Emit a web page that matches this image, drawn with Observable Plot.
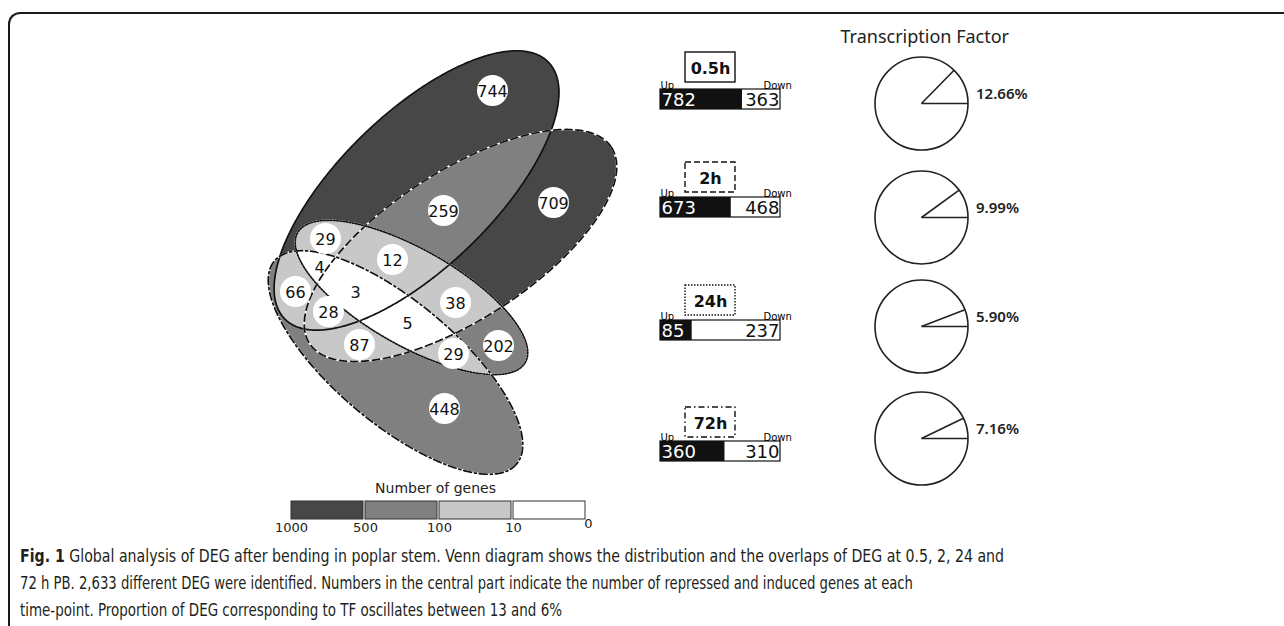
<!DOCTYPE html>
<html><head><meta charset="utf-8">
<script src="https://cdn.jsdelivr.net/npm/d3@7"></script>
<script src="https://cdn.jsdelivr.net/npm/@observablehq/plot@0.6"></script>
<style>
html,body{margin:0;padding:0;background:#fff;}
body{width:1284px;height:626px;overflow:hidden;position:relative;}
#frame{position:absolute;left:8px;top:12px;width:1400px;height:700px;border-top:2px solid #1a1a1a;border-left:2px solid #1a1a1a;border-top-left-radius:12px;box-sizing:border-box;}
#chart{position:absolute;left:0;top:0;}
#caption{position:absolute;left:20px;top:543px;font-family:"DejaVu Sans Condensed","Liberation Sans Narrow","DejaVu Sans",sans-serif;font-stretch:condensed;font-size:17px;color:#231f20;line-height:27px;}
#caption .cl{white-space:nowrap;}
#caption .cl span{display:inline-block;transform-origin:0 50%;}
</style></head><body>
<div id="frame"></div>
<div id="chart"></div>
<div id="caption">
<div class="cl"><span data-w="984"><b>Fig. 1</b> Global analysis of DEG after bending in poplar stem. Venn diagram shows the distribution and the overlaps of DEG at 0.5, 2, 24 and</span></div>
<div class="cl"><span data-w="893">72 h PB. 2,633 different DEG were identified. Numbers in the central part indicate the number of repressed and induced genes at each</span></div>
<div class="cl"><span data-w="542">time-point. Proportion of DEG corresponding to TF oscillates between 13 and 6%</span></div>
</div>
<script>
// ================= DATA =================
const vennRegions = ["A","B","C","D","AB","AC","AD","BC","BD","CD","ABC","ABD","ACD","BCD","ABCD"];
const vennCounts  = [744, 709, 202, 448, 259, 29, 66, 38, 87, 29, 12, 28, 4, 5, 3];
const timePoints  = ["0.5h","2h","24h","72h"];
const upCounts    = [782, 673, 85, 360];
const downCounts  = [363, 468, 237, 310];
const tfPercent   = [12.66, 9.99, 5.90, 7.16];
const legendBreaks = [1000, 500, 100, 10, 0];
const legendColors = ["#474747", "#808080", "#c8c8c8", "#ffffff"];

// ================= LAYOUT (figure geometry, px) =================
const W = 1284, H = 540;
// ellipses: A=0.5h (solid), B=2h (dashed), C=24h (dotted), D=72h (dash-dot)
const ellipseCx = [416, 460, 411, 395];
const ellipseCy = [190, 245, 297, 362];
const ellipseRx = [184, 180, 131, 158];
const ellipseRy = [77, 74, 48, 61];
const ellipseAngle = [44.2, 33, -29.7, -40];
const ellipseDash = [null, "7,4", "1.6,1.6", "8,3,2,3"];
const labelX = [492, 553, 498, 444, 443, 325, 295, 455, 359, 453, 392, 328, 319, 407, 355];
const labelY = [90, 202, 345, 408, 210, 238, 291, 302, 344, 353, 259, 311, 266, 322, 291];
const barX0 = 660, barX1 = 780, barH = 20;
const barCenterY = [99, 207, 330, 451];
const boxCx = 710, boxW = 50, boxH = 30;
const boxCenterY = [67, 177, 300, 422];
const boxDash = [null, "6,3", "1.5,1.5", "6,3,1.5,3"];
const pieCx = 921, pieR = 46.5;
const pieCy = [103, 217, 326, 438];
const legendLeft = 291, legendBoxW = 72, legendGap = 2, legendTop = 501, legendBoxH = 18;

// ================= HELPERS =================
const deg = Math.PI / 180;
const colorOf = d3.scaleThreshold().domain([10, 100, 500]).range(["#ffffff", "#c8c8c8", "#808080", "#474747"]);
const regionColor = new Map(vennRegions.map((r, i) => [r, colorOf(vennCounts[i])]));
const cosT = ellipseAngle.map(a => Math.cos(a * deg)), sinT = ellipseAngle.map(a => Math.sin(a * deg));
function inside(k, x, y) {
  const dx = x - ellipseCx[k], dy = y - ellipseCy[k];
  const u = dx * cosT[k] - dy * sinT[k];
  const v = dx * sinT[k] + dy * cosT[k];
  return (u / ellipseRx[k]) ** 2 + (v / ellipseRy[k]) ** 2 <= 1;
}
function vennFill(x, y) {
  let key = "";
  for (let k = 0; k < 4; k++) if (inside(k, x, y)) key += "ABCD"[k];
  return key ? regionColor.get(key) : "#ffffff";
}
function ellipsePoints(k) {
  const pts = [];
  for (let i = 0; i <= 720; i++) {
    const s = i * 0.5 * deg;
    pts.push({
      x: ellipseCx[k] + ellipseRx[k] * Math.cos(s) * cosT[k] + ellipseRy[k] * Math.sin(s) * sinT[k],
      y: ellipseCy[k] - ellipseRx[k] * Math.cos(s) * sinT[k] + ellipseRy[k] * Math.sin(s) * cosT[k]
    });
  }
  return pts;
}

// ================= MARKS =================
const marks = [];
const vx1 = 250, vx2 = 650, vy1 = 30, vy2 = 490;
if (typeof Plot.raster === "function") {
  marks.push(Plot.raster({x1: vx1, y1: vy1, x2: vx2, y2: vy2, width: (vx2 - vx1) * 2, height: (vy2 - vy1) * 2, fill: vennFill}));
} else {
  const cells = [];
  for (let x = vx1; x < vx2; x += 2) for (let y = vy1; y < vy2; y += 2) cells.push({x, y, c: vennFill(x + 1, y + 1)});
  marks.push(Plot.rect(cells, {x1: "x", y1: "y", x2: d => d.x + 2, y2: d => d.y + 2, fill: "c"}));
}
// outlines
for (let k = 0; k < 4; k++) {
  const pts = ellipsePoints(k);
  if (ellipseDash[k]) marks.push(Plot.line(pts, {x: "x", y: "y", stroke: "#ffffff", strokeWidth: 1.7}));
  marks.push(Plot.line(pts, {x: "x", y: "y", stroke: "#111", strokeWidth: 1.7, strokeDasharray: ellipseDash[k] || undefined}));
}
// region labels
const labels = vennRegions.map((r, i) => ({x: labelX[i], y: labelY[i], n: vennCounts[i]}));
marks.push(Plot.dot(labels.filter(d => d.n >= 10), {x: "x", y: "y", r: 15.5, fill: "#fff", stroke: null}));
marks.push(Plot.text(labels, {x: "x", y: "y", text: d => String(d.n), fontSize: 16, fontFamily: "DejaVu Sans", fill: "#111", dy: 1}));

// legend
const legendCells = legendColors.map((c, i) => ({c, x1: legendLeft + i * (legendBoxW + legendGap), x2: legendLeft + i * (legendBoxW + legendGap) + legendBoxW}));
marks.push(Plot.rect(legendCells, {x1: "x1", x2: "x2", y1: legendTop, y2: legendTop + legendBoxH, fill: "c", stroke: "#333", strokeWidth: 1}));
const legendLabs = legendBreaks.map((b, i) => ({b, x: i < 4 ? legendLeft + i * (legendBoxW + legendGap) : legendLeft + 3 * (legendBoxW + legendGap) + legendBoxW + 3, y: i < 4 ? legendTop + legendBoxH + 8 : legendTop + legendBoxH + 4}));
marks.push(Plot.text(legendLabs, {x: "x", y: "y", text: d => String(d.b), fontSize: 13, fontFamily: "DejaVu Sans", fill: "#222"}));
marks.push(Plot.text(["Number of genes"], {x: legendLeft + 2 * (legendBoxW + legendGap) - 4, y: legendTop - 13, text: d => d, fontSize: 14, fontFamily: "DejaVu Sans", fill: "#222"}));

// bars (black share proportional to up / (up + down))
const barScale = d3.scaleLinear().domain([0, 1]).range([barX0, barX1]);
const rows = timePoints.map((t, i) => ({t, up: upCounts[i], down: downCounts[i], y: barCenterY[i], by: boxCenterY[i], pct: tfPercent[i], py: pieCy[i]}));
marks.push(Plot.rect(rows, {x1: barX0, x2: barX1, y1: d => d.y - barH / 2, y2: d => d.y + barH / 2, fill: "#fff", stroke: "#111", strokeWidth: 1.2}));
marks.push(Plot.rect(rows, {x1: barX0, x2: d => barScale(d.up / (d.up + d.down)), y1: d => d.y - barH / 2, y2: d => d.y + barH / 2, fill: "#111"}));
marks.push(Plot.text(rows, {x: barX0 + 1, y: "y", text: d => String(d.up), textAnchor: "start", fontSize: 18, fontFamily: "DejaVu Sans", fill: "#fff", dy: 1}));
marks.push(Plot.text(rows, {x: barX1 - 1, y: "y", text: d => String(d.down), textAnchor: "end", fontSize: 18, fontFamily: "DejaVu Sans", fill: "#111", dy: 1}));
marks.push(Plot.text(rows, {x: barX0, y: d => d.y - barH / 2 - 1, text: () => "Up", textAnchor: "start", lineAnchor: "bottom", fontSize: 10, fontFamily: "DejaVu Sans", fill: "#000"}));
marks.push(Plot.text(rows, {x: barX1 - 17, y: d => d.y - barH / 2 - 1, text: () => "Down", textAnchor: "start", lineAnchor: "bottom", fontSize: 10, fontFamily: "DejaVu Sans", fill: "#000"}));
rows.forEach((r, i) => {
  marks.push(Plot.rect([r], {x1: boxCx - boxW / 2, x2: boxCx + boxW / 2, y1: d => d.by - boxH / 2, y2: d => d.by + boxH / 2, fill: "#fff", stroke: "#111", strokeWidth: 1.4, strokeDasharray: boxDash[i] || undefined}));
});
marks.push(Plot.text(rows, {x: boxCx, y: "by", text: "t", fontSize: 16, fontWeight: "bold", fontFamily: "DejaVu Sans", fill: "#111", letterSpacing: -0.5, dy: 1}));

// pies
marks.push(Plot.text(["Transcription Factor"], {x: 840, y: 37, text: d => d, textAnchor: "start", fontSize: 18, fontFamily: "Noto Sans", fill: "#222"}));
marks.push(Plot.dot(rows, {x: pieCx, y: "py", r: pieR, fill: "none", stroke: "#222", strokeWidth: 1.6}));
marks.push(Plot.link(rows, {x1: pieCx, y1: "py", x2: pieCx + pieR, y2: "py", stroke: "#222", strokeWidth: 1.6}));
marks.push(Plot.link(rows, {x1: pieCx, y1: "py", x2: d => pieCx + pieR * Math.cos(d.pct / 100 * 2 * Math.PI), y2: d => d.py - pieR * Math.sin(d.pct / 100 * 2 * Math.PI), stroke: "#222", strokeWidth: 1.6}));
marks.push(Plot.text(rows, {x: pieCx + pieR + 8, y: d => d.py - 9, text: d => d.pct.toFixed(2) + "%", textAnchor: "start", fontSize: 15, fontWeight: 600, fontFamily: "Noto Sans", fill: "#222", letterSpacing: 0.6}));

const chart = Plot.plot({
  width: W, height: H, margin: 0,
  x: {domain: [0, W], range: [0, W], axis: null},
  y: {domain: [0, H], range: [0, H], axis: null},
  color: {type: "identity"},
  style: {background: "transparent", overflow: "visible"},
  marks
});
document.getElementById("chart").appendChild(chart);

// fit caption lines to measured widths
document.querySelectorAll("#caption .cl span").forEach(s => {
  const w = s.getBoundingClientRect().width;
  const target = +s.dataset.w;
  if (w > 0) s.style.transform = `scaleX(${target / w})`;
});
</script>
</body></html>
